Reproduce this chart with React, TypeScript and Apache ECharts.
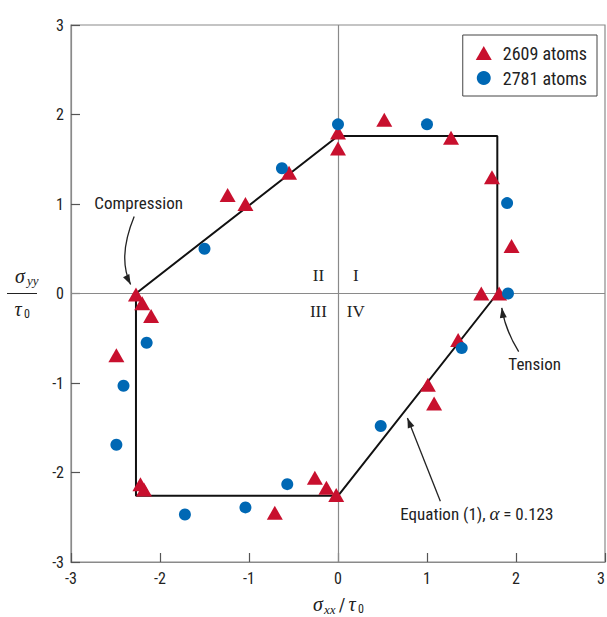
import React, { useEffect, useRef } from "react";
import * as echarts from "echarts";

const FONT = '"Liberation Sans Narrow", "Roboto Condensed", "Open Sans", Roboto, sans-serif';
const SERIF = '"Liberation Serif", "DejaVu Serif", serif';

// Data (sigma_xx / tau0, sigma_yy / tau0)
const red2609X = [0, 0, -0.55, -1.24, -1.04, -2.27, 0.52, 1.27, 1.73, 1.95, 1.61, 1.81, -2.2, -2.1, -2.49, -2.22, -2.18, -0.71, -0.26, -0.13, -0.02, 1.35, 1.01, 1.08];
const red2609Y = [1.8, 1.62, 1.35, 1.1, 1.0, -0.01, 1.94, 1.74, 1.3, 0.53, 0.0, 0.0, -0.11, -0.25, -0.69, -2.13, -2.19, -2.45, -2.06, -2.17, -2.25, -0.52, -1.02, -1.23];
const blue2781X = [0, -0.63, -1.5, 1.0, 1.9, 1.91, -2.15, -2.41, -2.49, -1.72, -1.04, -0.57, 1.39, 0.48];
const blue2781Y = [1.89, 1.4, 0.5, 1.89, 1.01, 0.0, -0.55, -1.03, -1.69, -2.47, -2.39, -2.13, -0.61, -1.48];
// Equation (1) yield surface, alpha = 0.123
const surfaceX = [-2.27, 0, 1.79, 1.79, 0, -2.27, -2.27];
const surfaceY = [0, 1.76, 1.76, 0, -2.26, -2.26, 0];
const axisTicks = [-3, -2, -1, 0, 1, 2, 3];

const RED = "#c8102e";
const BLUE = "#0068b4";

const zip = (xs: number[], ys: number[]) => xs.map((x, i) => [x, ys[i]]);

export default function App() {
  const ref = useRef<HTMLDivElement>(null);
  useEffect(() => {
    const chart = echarts.init(ref.current!, null, { renderer: "svg" });
    const axisCommon = {
      min: axisTicks[0],
      max: axisTicks[axisTicks.length - 1],
      interval: 1,
      axisLine: { show: true, onZero: false, lineStyle: { color: "#8a8a8a", width: 1.2 } },
      axisTick: { show: true, inside: true, length: 9, lineStyle: { color: "#555", width: 1.2 } },
      splitLine: { show: false },
      axisLabel: { color: "#222", fontSize: 16, fontFamily: FONT },
    };
    chart.setOption({
      animation: false,
      grid: {
        left: 71,
        right: 2,
        top: 25,
        bottom: 55,
        show: true,
        borderColor: "#8a8a8a",
        borderWidth: 1.2,
        containLabel: false,
        outerBoundsMode: "none",
      },
      xAxis: { type: "value", ...axisCommon, axisLabel: { ...axisCommon.axisLabel, margin: 8, alignMaxLabel: "right" } },
      yAxis: { type: "value", ...axisCommon, axisLabel: { ...axisCommon.axisLabel, margin: 7 } },
      legend: {
        orient: "vertical",
        right: 10,
        top: 35,
        data: ["2609 atoms", "2781 atoms"],
        borderColor: "#444",
        borderWidth: 1,
        padding: [9, 10, 9, 13],
        itemGap: 7,
        itemWidth: 16,
        itemHeight: 14,
        textStyle: { fontSize: 18, color: "#222", fontFamily: FONT, padding: [0, 0, 0, 6] },
      },
      series: [
        {
          type: "line",
          name: "Equation (1)",
          data: zip(surfaceX, surfaceY),
          symbol: "none",
          lineStyle: { color: "#111", width: 2 },
          z: 3,
          markLine: {
            silent: true,
            symbol: "none",
            label: { show: false },
            lineStyle: { color: "#8a8a8a", width: 1.2, type: "solid" },
            data: [{ xAxis: 0 }, { yAxis: 0 }],
            z: 1,
          },
        },
        {
          type: "scatter",
          name: "2609 atoms",
          data: zip(red2609X, red2609Y),
          symbol: "triangle",
          symbolSize: [16, 14],
          itemStyle: { color: RED, opacity: 1 },
          z: 4,
        },
        {
          type: "scatter",
          name: "2781 atoms",
          data: zip(blue2781X, blue2781Y),
          symbol: "circle",
          symbolSize: 12,
          itemStyle: { color: BLUE, opacity: 1 },
          z: 5,
        },
      ],
    });

    const P = (x: number, y: number) => chart.convertToPixel({ gridIndex: 0 }, [x, y]) as number[];
    const arrowHead = (tip: number[], from: number[]) => {
      const dx = tip[0] - from[0];
      const dy = tip[1] - from[1];
      const len = Math.hypot(dx, dy) || 1;
      const ux = dx / len, uy = dy / len;
      const L = 10, W = 3.5;
      const bx = tip[0] - ux * L, by = tip[1] - uy * L;
      return {
        type: "polygon",
        shape: { points: [tip, [bx - uy * W, by + ux * W], [bx + uy * W, by - ux * W]] },
        style: { fill: "#222" },
        z: 10,
      };
    };
    const curve = (s: number[], c: number[], t: number[]) => [
      {
        type: "bezierCurve",
        shape: { x1: s[0], y1: s[1], cpx1: c[0], cpy1: c[1], x2: t[0], y2: t[1] },
        style: { stroke: "#222", lineWidth: 1.3, fill: null },
        z: 10,
      },
      arrowHead(t, c),
    ];
    const txt = (p: number[], text: string, extra: any = {}) => ({
      type: "text",
      x: p[0],
      y: p[1],
      style: { text, fill: "#222", fontSize: 17, fontFamily: FONT, align: "center", verticalAlign: "middle", ...extra },
      z: 10,
    });

    const cS = P(-2.29, 0.86), cC = P(-2.48, 0.4), cT = P(-2.33, 0.1);
    const tS = P(2.03, -0.65), tC = P(1.88, -0.41), tT = P(1.84, -0.16);
    const eS = P(1.15, -2.32), eT = P(0.78, -1.39);

    const origin = P(0, 0);
    const bottomLeft = P(-3, -3);
    const yMid = P(-3, 0);

    const graphic: any[] = [
      ...curve(cS, cC, cT),
      ...curve(tS, tC, tT),
      { type: "line", shape: { x1: eS[0], y1: eS[1], x2: eT[0], y2: eT[1] }, style: { stroke: "#222", lineWidth: 1.3 }, z: 10 },
      arrowHead(eT, eS),
      txt(P(-2.24, 1.01), "Compression"),
      txt(P(2.21, -0.79), "Tension"),
      {
        type: "text",
        x: P(1.56, -2.46)[0],
        y: P(1.56, -2.46)[1],
        z: 10,
        style: {
          text: "Equation (1), {a|α} = 0.123",
          align: "center",
          verticalAlign: "middle",
          fill: "#222",
          fontSize: 17,
          fontFamily: FONT,
          rich: { a: { fontFamily: SERIF, fontStyle: "italic", fontSize: 19, fill: "#222" } },
        },
      },
      txt(P(-0.22, 0.2), "II", { fontFamily: SERIF, fontSize: 17 }),
      txt(P(0.2, 0.2), "I", { fontFamily: SERIF, fontSize: 17 }),
      txt(P(-0.22, -0.2), "III", { fontFamily: SERIF, fontSize: 17 }),
      txt(P(0.2, -0.2), "IV", { fontFamily: SERIF, fontSize: 17 }),
      // y-axis name: sigma_yy / tau_0 as a fraction
      { type: "text", x: 20, y: yMid[1] - 18, style: { text: "σ", fontFamily: SERIF, fontStyle: "italic", fontSize: 20, fill: "#222", align: "center", verticalAlign: "middle" }, z: 10 },
      { type: "text", x: 27, y: yMid[1] - 13, style: { text: "yy", fontFamily: SERIF, fontStyle: "italic", fontSize: 13, fill: "#222", align: "left", verticalAlign: "middle" }, z: 10 },
      { type: "line", shape: { x1: 7, y1: yMid[1], x2: 37, y2: yMid[1] }, style: { stroke: "#222", lineWidth: 1 }, z: 10 },
      { type: "text", x: 18, y: yMid[1] + 15, style: { text: "τ", fontFamily: SERIF, fontStyle: "italic", fontSize: 20, fill: "#222", align: "center", verticalAlign: "middle" }, z: 10 },
      { type: "text", x: 24, y: yMid[1] + 20, style: { text: "0", fontFamily: FONT, fontSize: 12, fill: "#222", align: "left", verticalAlign: "middle" }, z: 10 },
      // x-axis name: sigma_xx / tau_0
      { type: "text", x: origin[0] - 20, y: bottomLeft[1] + 42, style: { text: "σ", fontFamily: SERIF, fontStyle: "italic", fontSize: 20, fill: "#222", align: "center", verticalAlign: "middle" }, z: 10 },
      { type: "text", x: origin[0] - 14, y: bottomLeft[1] + 47, style: { text: "xx", fontFamily: SERIF, fontStyle: "italic", fontSize: 13, fill: "#222", align: "left", verticalAlign: "middle" }, z: 10 },
      { type: "text", x: origin[0] + 4, y: bottomLeft[1] + 42, style: { text: "/", fontFamily: FONT, fontSize: 18, fill: "#222", align: "center", verticalAlign: "middle" }, z: 10 },
      { type: "text", x: origin[0] + 14, y: bottomLeft[1] + 42, style: { text: "τ", fontFamily: SERIF, fontStyle: "italic", fontSize: 20, fill: "#222", align: "center", verticalAlign: "middle" }, z: 10 },
      { type: "text", x: origin[0] + 20, y: bottomLeft[1] + 47, style: { text: "0", fontFamily: FONT, fontSize: 12, fill: "#222", align: "left", verticalAlign: "middle" }, z: 10 },
    ];
    chart.setOption({ graphic });
    return () => chart.dispose();
  }, []);
  return <div ref={ref} style={{ position: "absolute", left: 0, top: 0, width: 607, height: 617 }} />;
}
